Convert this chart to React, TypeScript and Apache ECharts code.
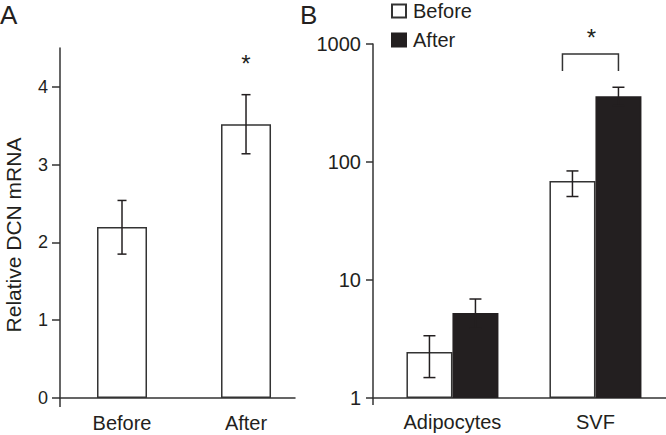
import React, { useEffect, useRef } from 'react';
import * as echarts from 'echarts';

// Panel A: relative DCN mRNA (linear)
const panelACategories = ['Before', 'After'];
const panelAValues = [2.2, 3.52];
const panelAErrLow = [1.85, 3.14];
const panelAErrHigh = [2.54, 3.9];
const panelATicks = [0, 1, 2, 3, 4];
const panelAStarValue = 4.37;

// Panel B: log scale
const panelBCategories = ['Adipocytes', 'SVF'];
const panelBBefore = [2.45, 69];
const panelBBeforeLow = [1.49, 51];
const panelBBeforeHigh = [3.37, 84];
const panelBAfter = [5.25, 360];
const panelBAfterLow = [3.9, 300];
const panelBAfterHigh = [6.9, 430];
const panelBBracketLow = 590;
const panelBBracketHigh = 822;
const panelBStarValue = 1260;

const TEXT = '#231f20';
const LINE = '#333333';
const FONT = '"Liberation Sans", Arial, sans-serif';

export default function App() {
  const ref = useRef<HTMLDivElement>(null);
  useEffect(() => {
    document.body.style.margin = '0';
    if (!ref.current) return;
    const chart = echarts.init(ref.current, undefined, { renderer: 'svg' });

    const posA = [1, 3];
    const posB = [5, 14];

    const errRender = (cap: number, offsetPx: number) => (params: any, api: any) => {
      const x = api.value(0);
      const lo = api.value(1);
      const hi = api.value(2);
      const side = api.value(3) || 0;
      const pLo = api.coord([x, lo]);
      const pHi = api.coord([x, hi]);
      const cx = pLo[0] + side * offsetPx;
      const h = cap / 2;
      const style = { stroke: TEXT, lineWidth: 1.5 };
      return {
        type: 'group',
        children: [
          { type: 'line', shape: { x1: cx, y1: pLo[1], x2: cx, y2: pHi[1] }, style },
          { type: 'line', shape: { x1: cx - h, y1: pLo[1], x2: cx + h, y2: pLo[1] }, style },
          { type: 'line', shape: { x1: cx - h, y1: pHi[1], x2: cx + h, y2: pHi[1] }, style },
        ],
      };
    };

    const option: any = {
      animation: false,
      textStyle: { fontFamily: FONT, color: TEXT },
      grid: [
        { left: 60, top: 48, width: 235, height: 350 },
        { left: 373, top: 44, width: 293, height: 354 },
      ],
      legend: {
        data: ['Before', 'After'],
        orient: 'vertical',
        left: 391,
        top: 1,
        padding: 0,
        itemWidth: 14,
        itemHeight: 13,
        itemGap: 9,
        icon: 'rect',
        textStyle: { fontSize: 20, color: TEXT, fontFamily: FONT, padding: [0, 0, 0, 2] },
      },
      xAxis: [
        {
          gridIndex: 0,
          type: 'value',
          min: 0,
          max: 3.79,
          splitLine: { show: false },
          axisLine: { show: true, onZero: false, lineStyle: { color: LINE, width: 1.5 } },
          axisTick: { show: true, customValues: [0], length: 9, lineStyle: { color: LINE, width: 1.5 } },
          axisLabel: {
            customValues: posA,
            formatter: (v: number) => panelACategories[posA.indexOf(v)] ?? '',
            fontSize: 20,
            margin: 15,
            color: TEXT,
            fontFamily: FONT,
          },
        },
        {
          gridIndex: 1,
          type: 'value',
          min: 0,
          max: 18.44,
          splitLine: { show: false },
          axisLine: { show: true, onZero: false, lineStyle: { color: LINE, width: 1.5 } },
          axisTick: { show: true, customValues: [0], length: 7, lineStyle: { color: LINE, width: 1.5 } },
          axisLabel: {
            customValues: posB,
            formatter: (v: number) => panelBCategories[posB.indexOf(v)] ?? '',
            fontSize: 20,
            margin: 14,
            color: TEXT,
            fontFamily: FONT,
          },
        },
      ],
      yAxis: [
        {
          gridIndex: 0,
          type: 'value',
          min: 0,
          max: 4.5,
          splitLine: { show: false },
          axisLine: { show: true, lineStyle: { color: LINE, width: 1.5 } },
          axisTick: { show: true, customValues: panelATicks, length: 8, lineStyle: { color: LINE, width: 1.5 } },
          axisLabel: { customValues: panelATicks, fontSize: 18, margin: 12, color: TEXT, fontFamily: FONT },
        },
        {
          gridIndex: 1,
          type: 'log',
          logBase: 10,
          min: 1,
          max: 1000,
          splitNumber: 3,
          splitLine: { show: false },
          minorTick: { show: false },
          axisLine: { show: true, lineStyle: { color: LINE, width: 1.5 } },
          axisTick: { show: true, length: 7, lineStyle: { color: LINE, width: 1.5 } },
          axisLabel: {
            fontSize: 20,
            margin: 12,
            color: TEXT,
            fontFamily: FONT,
            formatter: (v: number) => String(Math.round(v)),
          },
        },
      ],
      graphic: [
        {
          type: 'text',
          x: 0,
          y: 2,
          style: { text: 'A', font: `26px ${FONT}`, fill: TEXT, textVerticalAlign: 'top' },
        },
        {
          type: 'text',
          x: 300,
          y: 2,
          style: { text: 'B', font: `26px ${FONT}`, fill: TEXT, textVerticalAlign: 'top' },
        },
        {
          type: 'text',
          x: 13.5,
          y: 235,
          rotation: Math.PI / 2,
          style: {
            text: 'Relative DCN mRNA',
            font: `21px ${FONT}`,
            fill: TEXT,
            textAlign: 'center',
            textVerticalAlign: 'middle',
          },
        },
      ],
      series: [
        {
          name: 'DCN',
          type: 'bar',
          xAxisIndex: 0,
          yAxisIndex: 0,
          barWidth: 50,
          data: posA.map((p, i) => [p, panelAValues[i]]),
          itemStyle: { color: '#ffffff', borderColor: LINE, borderWidth: 1.5 },
        },
        {
          type: 'custom',
          xAxisIndex: 0,
          yAxisIndex: 0,
          renderItem: errRender(9, 0),
          data: posA.map((p, i) => [p, panelAErrLow[i], panelAErrHigh[i], 0]),
          encode: { x: 0, y: [1, 2] },
          z: 5,
        },
        {
          type: 'custom',
          xAxisIndex: 0,
          yAxisIndex: 0,
          clip: false,
          renderItem: (params: any, api: any) => {
            const p = api.coord([api.value(0), api.value(1)]);
            return {
              type: 'text',
              x: p[0],
              y: p[1] + 5,
              style: { text: '*', font: `24px ${FONT}`, fill: TEXT, textAlign: 'center', textVerticalAlign: 'middle' },
            };
          },
          data: [[posA[1], panelAStarValue]],
          encode: { x: 0, y: 1 },
        },
        {
          name: 'Before',
          type: 'bar',
          xAxisIndex: 1,
          yAxisIndex: 1,
          barWidth: 46,
          barGap: '0%',
          data: posB.map((p, i) => [p, panelBBefore[i]]),
          itemStyle: { color: '#ffffff', borderColor: LINE, borderWidth: 1.5 },
        },
        {
          name: 'After',
          type: 'bar',
          xAxisIndex: 1,
          yAxisIndex: 1,
          barWidth: 46,
          barGap: '0%',
          data: posB.map((p, i) => [p, panelBAfter[i]]),
          itemStyle: { color: TEXT, borderColor: TEXT, borderWidth: 1.5 },
        },
        {
          type: 'custom',
          xAxisIndex: 1,
          yAxisIndex: 1,
          renderItem: errRender(12, 23),
          data: [
            ...posB.map((p, i) => [p, panelBBeforeLow[i], panelBBeforeHigh[i], -1]),
            ...posB.map((p, i) => [p, panelBAfterLow[i], panelBAfterHigh[i], 1]),
          ],
          encode: { x: 0, y: [1, 2] },
          z: 5,
        },
        {
          type: 'custom',
          xAxisIndex: 1,
          yAxisIndex: 1,
          clip: false,
          renderItem: (params: any, api: any) => {
            const x = api.value(0);
            const lo = api.coord([x, api.value(1)]);
            const hi = api.coord([x, api.value(2)]);
            const st = api.coord([x, api.value(3)]);
            const l = lo[0] - 33;
            const r = lo[0] + 23;
            return {
              type: 'group',
              children: [
                {
                  type: 'polyline',
                  shape: { points: [[l, lo[1]], [l, hi[1]], [r, hi[1]], [r, lo[1]]] },
                  style: { stroke: LINE, lineWidth: 1.5, fill: 'none' },
                },
                {
                  type: 'text',
                  x: lo[0] - 4,
                  y: st[1] + 5,
                  style: { text: '*', font: `24px ${FONT}`, fill: TEXT, textAlign: 'center', textVerticalAlign: 'middle' },
                },
              ],
            };
          },
          data: [[posB[1], panelBBracketLow, panelBBracketHigh, panelBStarValue]],
          encode: { x: 0, y: [1, 2] },
        },
      ],
    };

    chart.setOption(option);
    return () => chart.dispose();
  }, []);

  return <div ref={ref} style={{ width: 666, height: 435 }} />;
}
